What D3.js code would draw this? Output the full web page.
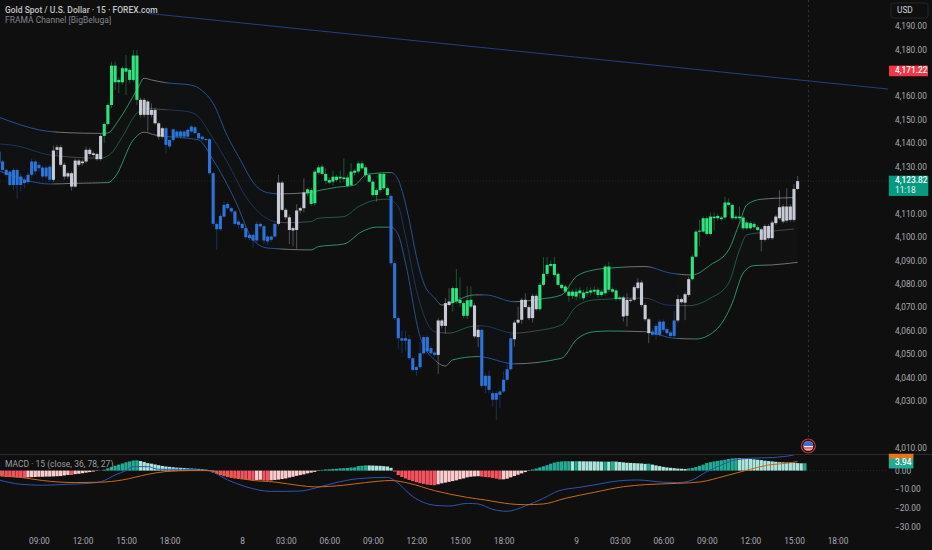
<!DOCTYPE html>
<html>
<head>
<meta charset="utf-8">
<script src="https://cdn.jsdelivr.net/npm/d3@7/dist/d3.min.js"></script>
<style>
html,body{margin:0;padding:0;background:#0f0f0f;overflow:hidden}
text{font-family:Roboto,"Noto Sans",sans-serif}
</style>
</head>
<body>
<svg id="chart" width="932" height="550"></svg>
<script>
// ---------- candle data: bars -1 .. 219 ----------
const firstBar = -1;
const bodyTop = [4136.4,4132.2,4128.6,4127.9,4128.6,4128.6,4125.8,4124.4,4126.5,4132.2,4132.2,4130.8,4129.6,4129.6,4130,4136.9,4138.3,4138.3,4130.8,4127.2,4127.2,4132.6,4132.6,4132.2,4137.2,4137.2,4135.7,4135.4,4143.1,4148.2,4156.3,4173.1,4173.1,4167,4172,4172,4171.3,4177.4,4177.4,4158.5,4158.5,4157.8,4154.2,4154.2,4148.5,4146.4,4146.4,4141.4,4145.9,4145,4145,4145,4145.7,4147.1,4146.8,4144.3,4142.8,4141.8,4141.7,4127.2,4105.6,4109,4113.7,4114.1,4112.3,4110.9,4106.6,4105.6,4103.8,4100.9,4100.9,4105.6,4105.6,4104.6,4100.2,4100.2,4105.6,4123.2,4123.2,4111.6,4108.4,4103.8,4111.3,4112.3,4119,4120.3,4120,4127.9,4129.7,4130,4126.9,4124.3,4125.7,4125.7,4125.7,4125.4,4125.4,4127.9,4128.3,4131.4,4131.4,4129.7,4126.4,4123.6,4120,4126.9,4126.9,4120.8,4117.5,4088.8,4065.4,4056.8,4056.8,4056.4,4048.3,4044.5,4050.4,4057.3,4057.3,4052.6,4050.7,4064.4,4064.4,4071.8,4072.5,4078.2,4078.2,4073.2,4071.8,4073,4073.2,4070.8,4060.4,4060.4,4040.8,4040.8,4033.4,4033.4,4034.1,4039.1,4043.6,4056.8,4063.5,4064.7,4073.2,4073.2,4070.1,4074.9,4074.9,4079.6,4084.3,4088.1,4088.5,4088.5,4084.3,4079.6,4078.9,4076.7,4076.7,4076.7,4077.2,4076.3,4076.7,4077.2,4077.5,4077.5,4076.7,4087.4,4087.4,4077.7,4077.2,4074.2,4074.2,4073.2,4073.2,4078.6,4080.6,4080.6,4071,4064.9,4059.7,4062.1,4063.9,4063.9,4060.7,4059.3,4064.4,4073.5,4073.5,4075.6,4082,4091.6,4102.3,4102.7,4108,4108,4108.7,4108.7,4109,4108.3,4114.7,4114.7,4113.7,4108.7,4108.7,4108.3,4106.2,4105.9,4105.6,4104.2,4103.3,4104.7,4104.7,4106.2,4108.7,4112.7,4113,4113,4113,4120.5,4123.82];
const bodyBot = [4131.5,4128.6,4126.5,4122.2,4122.2,4122.2,4122.2,4123,4123.4,4126.5,4128,4129.3,4125.8,4125.8,4124.4,4124.4,4137.2,4130.8,4125.8,4125.8,4121.5,4121.5,4130.8,4131.5,4132.2,4135.4,4135,4133.2,4133.2,4143.1,4148.2,4156.3,4166,4166,4166,4170.5,4167,4167,4158.5,4152.1,4152.1,4152.1,4152.1,4148.5,4142.8,4142.8,4139.3,4138.6,4141.4,4142.8,4142.8,4142.8,4142.8,4145,4144.3,4142.1,4141.7,4141.4,4127.2,4105.6,4103.3,4103.3,4108.7,4112.3,4110.9,4105.6,4105.2,4103.8,4099.9,4099.5,4098.5,4098.5,4104.5,4098.5,4098.1,4098.8,4100.2,4105.6,4111.6,4108.4,4103,4102.8,4103,4111.3,4112.3,4118.6,4114.1,4114.4,4127.4,4126.9,4124,4123.2,4123.6,4124.3,4125,4124.7,4121.8,4122.2,4127.4,4127.9,4129.3,4126.4,4123.6,4117.9,4117.9,4120,4120.8,4117.9,4088.8,4065.4,4056.8,4055.8,4055.8,4048.3,4043.3,4043.3,4044.5,4050.4,4051.2,4050.4,4049.7,4049.7,4062.1,4062.1,4071,4071.8,4072.5,4071.8,4066.4,4066.4,4070.3,4057.6,4057.3,4036.5,4036.5,4034.8,4030.6,4030.6,4032.7,4034.1,4039.1,4043.6,4056.4,4063.5,4064.7,4070.1,4065.4,4065.4,4069.2,4069.2,4079.6,4084.3,4087.7,4083.8,4079.6,4078.2,4076.7,4074.9,4074.9,4074.6,4076,4073.9,4076,4076.3,4076.7,4075.3,4075.3,4076,4077.5,4076.7,4073.5,4073.5,4066.1,4066.4,4072.9,4073.2,4078.2,4071,4064.9,4059,4058.3,4058.3,4058.3,4060.4,4059,4057.8,4057.8,4064.4,4072.2,4072,4075.3,4082,4091.6,4102.3,4102.3,4101.3,4101.3,4108,4108,4107.6,4108.3,4113.7,4108,4108,4108,4103.7,4103.7,4103.7,4104.2,4103,4098.8,4098.8,4099.5,4099.5,4105.9,4108,4106.6,4107,4107.3,4107.3,4120.5];
const wickHigh = [4137.2,4133,4129.3,4128.5,4129.5,4129.3,4127,4125.5,4127.5,4133.5,4133,4132,4130.5,4130.5,4131,4139,4139.3,4139.3,4131.8,4128,4128,4133.5,4133.2,4133,4138.5,4138.2,4136.5,4136,4144,4149,4157,4174.8,4174.8,4168,4172.7,4177.6,4172,4179.8,4179.8,4159.5,4159.3,4158.5,4157,4155,4149.3,4147,4147,4142,4146.5,4145.8,4145.8,4145.6,4146.2,4147.8,4147.5,4144.8,4143.3,4142.3,4142.3,4127.8,4106.5,4110,4115,4115,4113,4111.5,4107.5,4106.2,4104.5,4101.5,4101.5,4106.8,4106.3,4105.2,4100.8,4100.8,4106.5,4126.5,4124,4112.3,4109.5,4104.5,4114,4113,4125,4121,4121,4128.8,4130.7,4131,4129.3,4125.5,4128.3,4126.5,4128.3,4133.5,4126.5,4131.5,4129.2,4132.5,4132.5,4130.5,4127.2,4124.5,4120.8,4127.5,4127.5,4121.5,4118.2,4089.8,4066.2,4060,4060,4058.2,4049,4045,4055.4,4058,4058,4053.5,4051.5,4065.4,4065,4073.9,4078.2,4079,4086.3,4082.8,4072.8,4079,4079,4071.8,4061.5,4061,4042,4043,4034.2,4034.2,4035,4042.6,4045.5,4059,4064.5,4070.3,4074,4076,4071,4075.8,4075.8,4080.5,4091.4,4091.5,4090,4091.5,4085,4080.3,4079.6,4078.5,4077.8,4078,4078.5,4077.5,4078.6,4078.5,4079,4078.5,4077.5,4088.2,4089.5,4078.5,4078,4075,4075,4076,4074,4079.5,4082.4,4081.5,4071.8,4065.5,4061,4063,4064.8,4064.8,4061.5,4060,4068.5,4075.3,4074.3,4076.5,4083,4092.5,4103.3,4107.3,4108.8,4108.8,4110.5,4110.5,4110,4109,4117.2,4116.5,4114.5,4109.5,4113,4109,4107,4106.8,4106.5,4105,4104,4105.5,4105.5,4107,4109.5,4120,4114,4120.8,4114,4122.5,4126];
const wickLow = [4130.8,4127.2,4125.8,4121.5,4120,4116.5,4119.5,4120.8,4122.5,4125.5,4126.5,4128,4125,4125,4123.5,4123.5,4135,4130,4124.5,4124.8,4119.8,4121,4130,4130.5,4131.5,4134.5,4134,4132.5,4132.5,4140,4147.5,4155,4162.7,4161.3,4165,4160.6,4165.5,4166,4156.3,4151,4151,4145,4151,4148,4141.5,4142,4135.7,4137.5,4140.5,4142,4141.8,4141.8,4142,4144.5,4143.8,4141.5,4141,4140.5,4126.5,4104.5,4094.5,4102.5,4108,4111.5,4110,4104.8,4103.5,4102.8,4099,4098.5,4095.5,4097.5,4103.5,4097,4096.5,4098,4099.5,4104.8,4111,4107.5,4097,4096,4095,4110,4110.5,4117.5,4113.2,4113.5,4126.5,4126.2,4122.5,4122.5,4122,4123.5,4122.9,4123.5,4121,4121.5,4126,4127,4128.5,4125.5,4123,4117.2,4115,4119,4120,4117.2,4087.5,4064.5,4052,4050.5,4051.2,4047.5,4042.5,4040.8,4043.8,4049.8,4050.5,4049.8,4049,4041.6,4061,4058.8,4070.5,4068.2,4071.5,4070.3,4065.5,4065,4069.5,4056.8,4053,4035.5,4033.4,4033.4,4027.7,4022,4027,4033.4,4038.5,4043,4053.3,4062.8,4063,4069.5,4064.5,4063.5,4068.5,4068.5,4079,4083.5,4087,4083,4079,4077.5,4076,4072.5,4073.5,4073,4073.5,4073,4074.5,4075,4075.5,4074,4074.5,4075,4076.5,4076,4072.5,4072.8,4063.9,4061.8,4072,4072.5,4077.5,4070,4064,4054.7,4057.5,4056,4057.5,4059.5,4058.2,4057,4057,4063.5,4071.5,4064.5,4074.5,4081.5,4091,4095.9,4101.8,4100.5,4100.5,4103,4107,4107,4107.5,4113,4107.3,4107.2,4107,4103,4103,4103,4103.5,4102.5,4093.8,4098,4098.8,4098.8,4105,4107.2,4105.8,4106.2,4106.5,4106.5,4120];

// trend state runs: last bar of each run and its state
const trendEnd  = [13,27,37,44,75,83,106,119,123,129,131,140,147,170,178,185,189,208,219];
const trendName = ['b','w','g','w','b','w','g','b','w','g','w','b','w','g','w','b','w','g','w'];

// FRAMA channel knots
const upperBars = [-1,5,10,18,27,29,32,37,39,41,45,52,55,58,62,65,70,73,76,84,87,92,97,100,103,107,109,112,114,116,119,121,130,133,141,148,154,158,163,167,177,184,190,195,200,203,205,209,218];
const upperVals = [4151.1,4147.8,4145.7,4144.5,4144.2,4144.4,4149.9,4162.7,4167.7,4167,4165.8,4164.8,4162.4,4157,4142.8,4134.3,4121.5,4118.9,4118.4,4118.9,4119.8,4121.2,4122.2,4126.5,4127.2,4127.5,4124.3,4107.3,4091.6,4080.4,4074,4071,4075.3,4075.3,4072.4,4073.5,4075.3,4083.1,4086,4086.7,4087.4,4084.6,4083.8,4088.1,4094.5,4106,4113.7,4116.1,4116.8];
const midBars = [-1,5,8,13,27,30,33,37,40,43,51,54,57,62,67,72,75,78,85,87,94,98,103,106,109,111,114,117,119,123,129,132,141,147,154,158,163,167,170,177,183,189,195,200,203,205,209,218];
const midVals = [4139.7,4138.5,4137.1,4135,4133.6,4135.8,4142.8,4152.8,4154.9,4154.5,4153.5,4151.3,4144.4,4131.6,4117.2,4108.7,4106.6,4106.1,4106.6,4108,4108.7,4112.9,4115.8,4116.1,4112.9,4100.2,4077.4,4063.2,4059.6,4059,4061.8,4062.1,4059,4060,4062.5,4070.3,4073.2,4073.5,4073.9,4073.9,4071,4070.7,4073.9,4080.3,4094.5,4100.9,4101.9,4103.4];
const lowerBars = [-1,8,13,20,29,31,36,39,42,51,54,58,64,69,73,85,87,94,99,103,107,109,111,115,119,122,124,131,141,154,158,163,167,177,185,191,197,201,204,207,212,219];
const lowerVals = [4128.2,4123.6,4122.6,4122.9,4123.2,4125.7,4141.4,4144.7,4143.5,4142.1,4141.4,4132.9,4115.8,4098.8,4095.3,4094.5,4095.9,4097,4102.3,4104.2,4104.2,4100.9,4088.9,4057.5,4047.6,4045,4047.6,4049,4045.9,4048.3,4056.1,4059.6,4059.9,4059.6,4056.8,4056.5,4061.1,4071.8,4084.6,4087.8,4088.1,4089.2];

// MACD
const histVals = [-3.0,-3.2,-3.4,-3.5,-3.6,-3.7,-3.8,-3.85,-3.6,-3.5,-3.4,-3.3,-3.3,-3.2,-3.2,-3.1,-3.0,-2.9,-2.6,-2.3,-2.35,-1.9,-1.7,-1.4,-1.1,-0.8,-0.5,-0.2,0.1,0.5,1.2,1.9,2.6,3.2,3.8,4.4,4.9,5.4,5.5,5.1,4.6,4.0,3.7,3.3,2.9,2.5,2.2,2.0,1.8,1.6,1.5,1.4,1.2,1.1,1.0,0.9,0.7,0.5,0.3,-1.0,-1.8,-2.4,-3.0,-3.5,-3.9,-4.2,-4.5,-4.7,-4.9,-5.0,-5.1,-5.0,-4.9,-5.3,-5.4,-5.2,-5.0,-4.8,-4.5,-4.2,-3.7,-3.3,-2.8,-2.4,-2.0,-1.5,-1.1,-0.7,-0.2,0.4,0.6,0.7,0.9,1.0,1.2,1.3,1.4,1.6,1.7,2.4,2.6,2.8,2.75,2.7,2.6,2.55,2.4,2.2,1.5,-0.5,-2.4,-3.4,-4.2,-5.0,-5.6,-6.2,-6.7,-7.1,-7.5,-7.7,-7.8,-7.3,-6.8,-6.4,-6.0,-5.6,-5.2,-4.6,-4.2,-3.6,-3.3,-3.1,-3.0,-3.2,-3.4,-3.6,-3.9,-4.3,-4.7,-4.65,-4.3,-3.6,-2.9,-2.2,-1.5,-0.8,-0.2,0.6,1.1,1.7,2.3,2.9,3.7,4.3,4.7,4.9,5.0,5.0,4.95,5.0,4.97,4.95,4.93,4.92,4.9,4.85,4.8,4.8,4.75,4.9,4.8,4.6,4.4,4.2,4.1,4.0,3.9,3.8,3.6,3.7,3.2,2.8,2.4,2.0,1.7,1.5,1.3,1.1,1.0,0.9,1.1,1.4,1.9,2.5,3.2,4.0,4.5,4.9,5.2,5.5,5.8,6.2,6.5,6.6,6.55,6.5,6.4,6.2,6.0,5.8,5.6,5.3,5.1,4.9,4.7,4.5,4.4,4.3,4.2,4.1,4.0,3.9,3.94];
const macdBars = [-1,5,11,18,24,28,31,34,36,40,43,49,54,57,62,67,74,82,86,91,98,106,108,113,119,123,128,131,135,139,144,149,153,159,164,168,175,182,186,190,194,198,201,206,212,218,219];
const macdVals = [-5,-7.3,-7.8,-7.3,-6.8,-5.3,-2.3,0,2.1,2.1,0.7,0.7,0.4,-0.2,-5,-8.6,-11.1,-10.9,-9.4,-6.8,-4.3,-3.6,-5.3,-13.9,-18.5,-18.9,-17.5,-17.8,-20.7,-21.7,-18.9,-14.8,-10.9,-8.9,-7.3,-5.9,-5,-6.2,-6.4,-5,-0.5,3,5.3,6.6,7,8.4,9.1];
const signalBars = [-1,5,11,20,27,33,40,45,52,57,62,68,75,82,86,94,100,107,112,119,128,133,140,144,149,155,163,171,177,186,192,199,206,211,216,219];
const signalVals = [-2.5,-3.6,-5.3,-6.4,-6.2,-5,-2,-0.5,0,0,-2.3,-5,-6.1,-8,-8.7,-7.8,-6.4,-5.3,-6.8,-10.7,-14.3,-15.7,-17.8,-18.2,-17.8,-14.8,-11.6,-8.6,-7.5,-6.8,-6.1,-2.9,0.7,3,3.9,4.8];

// axis text
const priceTicks = [4190,4180,4160,4150,4140,4130,4110,4100,4090,4080,4070,4060,4050,4040,4030,4010];
const macdTicks = [0,-10,-20,-30];
const timeBars = [10,22,34,46,66,78,90,102,114,126,138,158,170,182,194,206,218,230];
const timeLabels = ['09:00','12:00','15:00','18:00','8','03:00','06:00','09:00','12:00','15:00','18:00','9','03:00','06:00','09:00','12:00','15:00','18:00'];
const titleText = 'Gold Spot / U.S. Dollar · 15 · FOREX.com';
const indicatorText = 'FRAMA Channel [BigBeluga]';
const macdText = 'MACD · 15 (close, 36, 78, 27)';
const lastPrice = 4123.82, alertPrice = 4171.22, lastHist = 3.94, countdown = '11:18';
const trendBars = [40,244], trendVals = [4195.4,4163.1];
const sessionMarkerBar = 222;

// ---------- scales ----------
const W = 932, H = 550, paneRight = 888;
const x = d3.scaleLinear().domain([0,219]).range([2.6,797.6]);
const y = d3.scaleLinear().domain([4190,4010]).range([26,448]);
const yM = d3.scaleLinear().domain([0,-30]).range([470.6,526.8]);

const svg = d3.select('#chart');
svg.append('rect').attr('width',W).attr('height',H).attr('fill','#0f0f0f');
const defs = svg.append('defs');
defs.append('clipPath').attr('id','pane').append('rect').attr('x',0).attr('y',0).attr('width',paneRight).attr('height',454);
defs.append('clipPath').attr('id','paneM').append('rect').attr('x',0).attr('y',455).attr('width',paneRight).attr('height',75);

const candleColors = {b:'#2d74da',g:'#2fe37f',w:'#c6cbd6'};
const lineColors = {b:'#2a5fae',g:'#2fae76',w:'#86888c'};
const barState = b => { const k = trendEnd.findIndex(e => b <= e); return trendName[k < 0 ? trendName.length-1 : k]; };

// gradient along the bars, following the trend state
function trendGradient(id){
  const g = defs.append('linearGradient').attr('id',id).attr('gradientUnits','userSpaceOnUse')
    .attr('x1',x(-1)).attr('x2',x(219)).attr('y1',0).attr('y2',0);
  const span = 220;
  let start = -1;
  trendEnd.forEach((e,k)=>{
    const c = lineColors[trendName[k]];
    g.append('stop').attr('offset',(Math.min(start+2,e)+1)/span).attr('stop-color',c);
    g.append('stop').attr('offset',(e+1)/span).attr('stop-color',c);
    start = e;
  });
}
trendGradient('trendGrad');

const main = svg.append('g').attr('clip-path','url(#pane)');

// last-price guide, session marker
main.append('line').attr('x1',0).attr('x2',paneRight).attr('y1',y(lastPrice)).attr('y2',y(lastPrice))
  .attr('stroke','#2a2c30').attr('stroke-width',0.8).attr('stroke-dasharray','1 2');
svg.append('line').attr('x1',x(sessionMarkerBar)).attr('x2',x(sessionMarkerBar)).attr('y1',0).attr('y2',437)
  .attr('stroke','#3a3c40').attr('stroke-width',0.8).attr('stroke-dasharray','2 3');

// trend line
main.append('path').datum(d3.zip(trendBars,trendVals))
  .attr('d',d3.line().x(d=>x(d[0])).y(d=>y(d[1]))).attr('fill','none').attr('stroke','#24407f').attr('stroke-width',1);

// channel
const curve = d3.curveMonotoneX;
const upperFn = d3.scaleLinear().domain(upperBars).range(upperVals);
const lowerFn = d3.scaleLinear().domain(lowerBars).range(lowerVals);
const areaBars = d3.range(-1,220);
main.append('path').datum(areaBars)
  .attr('d',d3.area().x(b=>x(b)).y0(b=>y(lowerFn(b))).y1(b=>y(upperFn(b))).curve(curve))
  .attr('fill','url(#trendGrad)').attr('opacity',0.02);
[[upperBars,upperVals,0.9],[midBars,midVals,0.5],[lowerBars,lowerVals,0.9]].forEach(([bs,vs,op])=>{
  main.append('path').datum(d3.zip(bs,vs))
    .attr('d',d3.line().x(d=>x(d[0])).y(d=>y(d[1])).curve(curve))
    .attr('fill','none').attr('stroke','url(#trendGrad)').attr('stroke-width',0.9).attr('opacity',op);
});

// candles
const bars = bodyTop.map((t,k)=>({bar:k+firstBar,top:t,bot:bodyBot[k],hi:wickHigh[k],lo:wickLow[k]}));
main.append('g').selectAll('line').data(bars).join('line')
  .attr('x1',d=>x(d.bar)).attr('x2',d=>x(d.bar)).attr('y1',d=>y(d.hi)).attr('y2',d=>y(d.lo))
  .attr('stroke',d=>candleColors[barState(d.bar)]).attr('stroke-opacity',0.42).attr('stroke-width',0.8);
main.append('g').selectAll('rect').data(bars).join('rect')
  .attr('x',d=>x(d.bar)-1.55).attr('width',3.1)
  .attr('y',d=>y(d.top)).attr('height',d=>Math.max(1,y(d.bot)-y(d.top)))
  .attr('fill',d=>candleColors[barState(d.bar)]);

// ---------- MACD pane ----------
svg.append('line').attr('x1',0).attr('x2',W).attr('y1',454.5).attr('y2',454.5).attr('stroke','#2a2b2e').attr('stroke-width',1);
const pane = svg.append('g').attr('clip-path','url(#paneM)');
pane.append('line').attr('x1',0).attr('x2',paneRight).attr('y1',yM(0)).attr('y2',yM(0))
  .attr('stroke','#35373b').attr('stroke-width',0.6).attr('stroke-dasharray','1 2');
const histColor = (v,p) => v>=0 ? (v>=p ? '#22ab94' : '#ace5dc') : (v<p ? '#f7525f' : '#fccbcd');
pane.append('g').selectAll('rect').data(histVals).join('rect')
  .attr('x',(v,k)=>x(k+firstBar)-1.7).attr('width',3.3)
  .attr('y',v=>Math.min(yM(v),yM(0))).attr('height',v=>Math.abs(yM(v)-yM(0)))
  .attr('fill',(v,k)=>histColor(v,k?histVals[k-1]:v));
[[macdBars,macdVals,'#2c55b0'],[signalBars,signalVals,'#c9691e']].forEach(([bs,vs,c])=>{
  pane.append('path').datum(d3.zip(bs,vs))
    .attr('d',d3.line().x(d=>x(d[0])).y(d=>yM(d[1])).curve(curve))
    .attr('fill','none').attr('stroke',c).attr('stroke-width',1);
});

// ---------- axes ----------
const styleAxis = g => {
  g.select('.domain').remove();
  g.selectAll('.tick line').remove();
  g.selectAll('text').attr('fill','#a8abb2').attr('font-size',8.3).attr('font-family','Roboto,sans-serif');
};
svg.append('g').attr('transform','translate(895,0)')
  .call(d3.axisRight(y).tickValues(priceTicks).tickSize(0).tickPadding(0).tickFormat(d3.format(',.2f')))
  .call(styleAxis);
svg.append('g').attr('transform','translate(895,0)')
  .call(d3.axisRight(yM).tickValues(macdTicks).tickSize(0).tickPadding(0).tickFormat(v=>d3.format('.2f')(v).replace('-','−')))
  .call(styleAxis);
svg.append('g').attr('transform','translate(0,537.8)')
  .call(d3.axisBottom(x).tickValues(timeBars).tickSize(0).tickPadding(0).tickFormat((d,k)=>timeLabels[k]))
  .call(styleAxis);

// ---------- labels ----------
const label = (t,px,py,c,s,w,a) => svg.append('text').attr('x',px).attr('y',py).attr('fill',c)
  .attr('font-size',s).attr('font-weight',w||400).attr('text-anchor',a||'start').attr('dominant-baseline','middle').text(t);
label(titleText,5,10.3,'#c3c6cc',8.5,500);
label(indicatorText,5,21,'#82858c',8.5);
label(macdText,5,465.2,'#9a9da4',8.5);

// USD box
svg.append('rect').attr('x',891).attr('y',3).attr('width',37).attr('height',15).attr('rx',2.5)
  .attr('fill','#0f0f0f').attr('stroke','#2a2c30').attr('stroke-width',0.8);
label('USD',897,10.5,'#d1d4dc',8.3);

// price badges
const fmt = d3.format(',.2f');
svg.append('rect').attr('x',889).attr('y',y(alertPrice)-4.4).attr('width',39).attr('height',10.6).attr('fill','#f23645');
label(fmt(alertPrice),895,y(alertPrice)+0.8,'#ffffff',8.3,500);
svg.append('rect').attr('x',888.8).attr('y',y(lastPrice)-5.5).attr('width',39.5).attr('height',20.3).attr('fill','#089981');
label(fmt(lastPrice),895,y(lastPrice)-0.3,'#ffffff',8.3,500);
label(countdown,895,y(lastPrice)+9.3,'#e6f5f1',8.3,400);

// MACD badges
svg.append('rect').attr('x',888.8).attr('y',yM(lastHist)-9.5).attr('width',24.6).attr('height',5.5).attr('fill','#e0761f');
svg.append('rect').attr('x',888.8).attr('y',yM(lastHist)-4.4).attr('width',24.6).attr('height',9.6).attr('fill','#22ab94');
label(d3.format('.2f')(lastHist),895,yM(lastHist)-0.2,'#ffffff',8.3,500);

// US flag event marker
const fx = x(sessionMarkerBar)-0.2, fy = 446;
const flag = svg.append('g').attr('transform',`translate(${fx},${fy})`);
defs.append('clipPath').attr('id','flagClip').append('circle').attr('r',5);
flag.append('circle').attr('r',7).attr('fill','#2b1216').attr('stroke','#c5303c').attr('stroke-width',1.2);
const fg = flag.append('g').attr('clip-path','url(#flagClip)');
fg.append('rect').attr('x',-5).attr('y',-5).attr('width',10).attr('height',10).attr('fill','#eef0f4');
fg.append('rect').attr('x',-5).attr('y',1.2).attr('width',10).attr('height',1.6).attr('fill','#d8505a');
fg.append('rect').attr('x',-5).attr('y',-5).attr('width',10).attr('height',5).attr('fill','#3b6fc9');
fg.append('rect').attr('x',-5).attr('y',3.6).attr('width',10).attr('height',1.6).attr('fill','#d8505a');
</script>
</body>
</html>
